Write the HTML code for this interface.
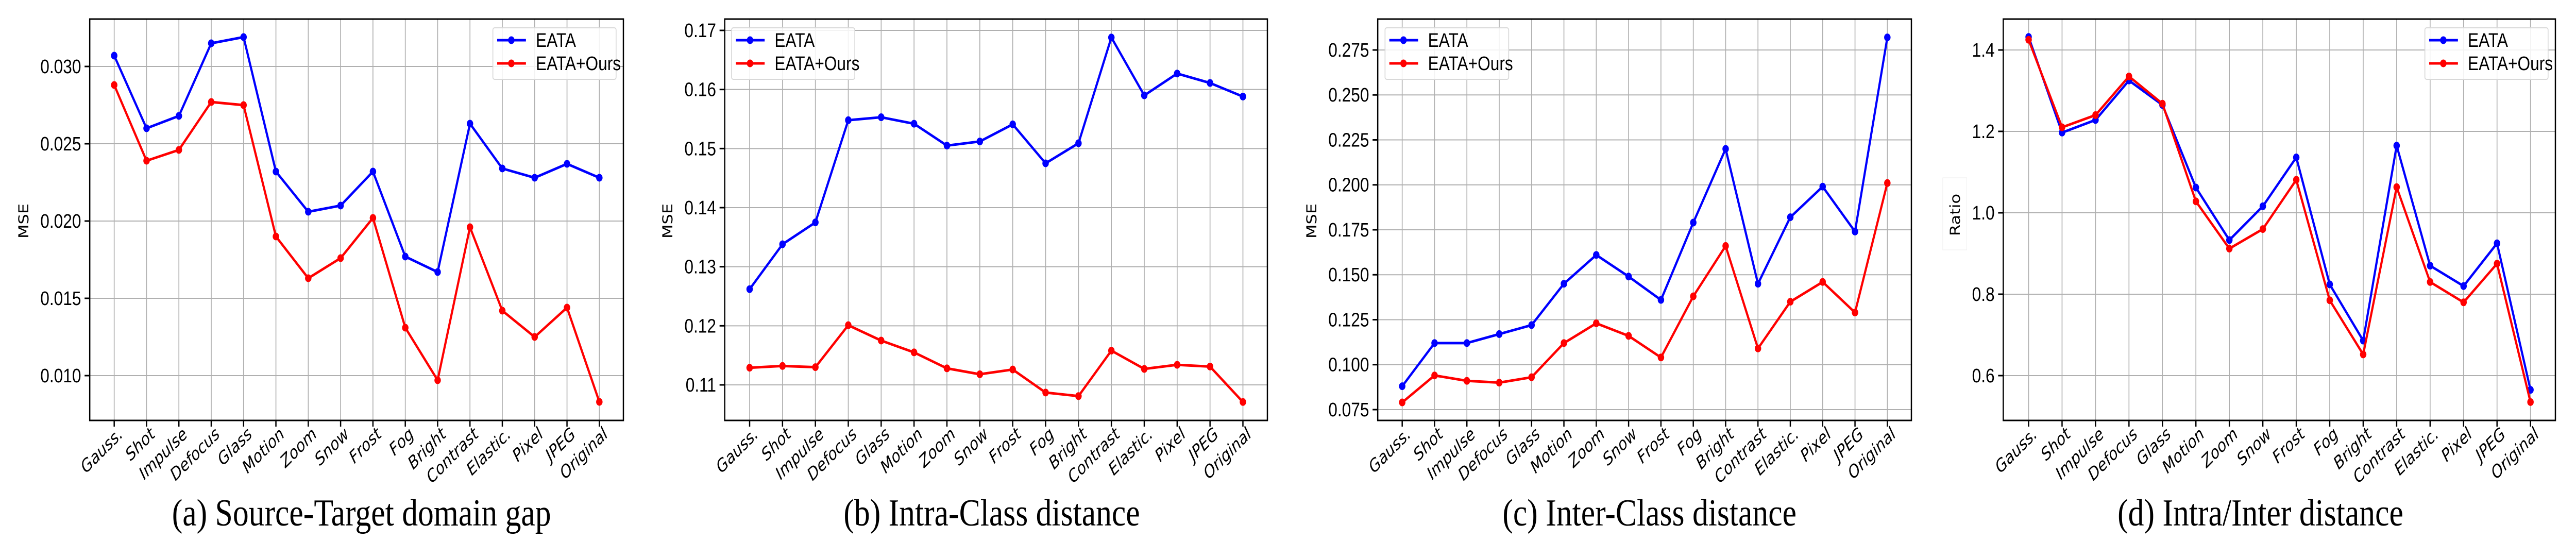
<!DOCTYPE html>
<html><head><meta charset="utf-8"><style>
html,body{margin:0;padding:0;background:#fff;width:100%;height:100%;overflow:hidden;}
svg{display:block;width:100vw;height:100vh;}
text{font-family:"Liberation Sans Narrow","Liberation Sans",sans-serif;}
</style></head><body>
<svg id="chart" viewBox="0 0 6000 1050" preserveAspectRatio="none" xmlns="http://www.w3.org/2000/svg"></svg>
<script>
const categories = ["Gauss.","Shot","Impulse","Defocus","Glass","Motion","Zoom","Snow","Frost","Fog","Bright","Contrast","Elastic.","Pixel","JPEG","Original"];
const aEata = [0.0307,0.0260,0.0268,0.0315,0.0319,0.0232,0.0206,0.0210,0.0232,0.0177,0.0167,0.0263,0.0234,0.0228,0.0237,0.0228];
const aOurs = [0.0288,0.0239,0.0246,0.0277,0.0275,0.0190,0.0163,0.0176,0.0202,0.0131,0.0097,0.0196,0.0142,0.0125,0.0144,0.0083];
const bEata = [0.1262,0.1338,0.1375,0.1548,0.1553,0.1542,0.1505,0.1512,0.1541,0.1475,0.1509,0.1688,0.1590,0.1627,0.1611,0.1588];
const bOurs = [0.1129,0.1132,0.1130,0.1201,0.1175,0.1155,0.1128,0.1118,0.1126,0.1087,0.1081,0.1158,0.1127,0.1134,0.1131,0.1071];
const cEata = [0.088,0.112,0.112,0.117,0.122,0.145,0.161,0.149,0.136,0.179,0.220,0.145,0.182,0.199,0.174,0.282];
const cOurs = [0.079,0.094,0.091,0.090,0.093,0.112,0.123,0.116,0.104,0.138,0.166,0.109,0.135,0.146,0.129,0.201];
const dEata = [1.432,1.197,1.228,1.325,1.265,1.062,0.933,1.016,1.136,0.824,0.686,1.165,0.870,0.820,0.925,0.565];
const dOurs = [1.425,1.210,1.240,1.335,1.268,1.028,0.912,0.960,1.081,0.785,0.652,1.063,0.830,0.780,0.875,0.535];
const aTicks = ["0.010","0.015","0.020","0.025","0.030"];
const bTicks = ["0.11","0.12","0.13","0.14","0.15","0.16","0.17"];
const cTicks = ["0.075","0.100","0.125","0.150","0.175","0.200","0.225","0.250","0.275"];
const dTicks = ["0.6","0.8","1.0","1.2","1.4"];
const titles = ["(a) Source-Target domain gap","(b) Intra-Class distance","(c) Inter-Class distance","(d) Intra/Inter distance"];
const yLabels = ["MSE","MSE","MSE","Ratio"];

const NS="http://www.w3.org/2000/svg";
const svg=document.getElementById('chart');
function mk(tag,attrs,parent){const e=document.createElementNS(NS,tag);for(const k in attrs)e.setAttribute(k,attrs[k]);(parent||svg).appendChild(e);return e;}

const panels=[
 {off:0,L:209,R:1452,T:37,B:816,x0:266,x1:1396,t0:0.010,y0:729,t1:0.030,y1:129,ticks:aTicks,s1:aEata,s2:aOurs,leg:[1148,54,287,100],tc:842},
 {off:1500,L:188,R:1452,T:37,B:816,x0:246,x1:1395,t0:0.11,y0:747,t1:0.17,y1:59,ticks:bTicks,s1:bEata,s2:bOurs,leg:[204,54,287,100],tc:810},
 {off:3000,L:209,R:1452,T:37,B:816,x0:266,x1:1396,t0:0.075,y0:795,t1:0.275,y1:97,ticks:cTicks,s1:cEata,s2:cOurs,leg:[226,54,288,100],tc:842},
 {off:4500,L:166,R:1452,T:37,B:816,x0:225,x1:1394,t0:0.6,y0:729,t1:1.4,y1:97,ticks:dTicks,s1:dEata,s2:dOurs,leg:[1148,54,287,100],tc:765}
];
panels.forEach((p,pi)=>{
 const g=mk('g',{transform:`translate(${p.off},0)`});
 
 
 const xs=i=>p.x0+(p.x1-p.x0)*i/(categories.length-1);
 const ys=v=>p.y0+(v-p.t0)*(p.y1-p.y0)/(p.t1-p.t0);
 categories.forEach((c,i)=>{
  const l=mk('line',{x1:xs(i),x2:xs(i),y1:p.T,y2:p.B,stroke:'#b0b0b0','stroke-width':2},g);
  
  
  mk('line',{x1:xs(i),x2:xs(i),y1:p.B,y2:p.B+12,stroke:'#000','stroke-width':3},g);
  const t=mk('text',{x:0,y:0,'text-anchor':'end','font-size':34,transform:`translate(${xs(i)+22},${p.B+30}) rotate(-40)`,style:'font-family:"DejaVu Sans",sans-serif;font-style:oblique'},g);
  t.textContent=c;
  
  
 });
 p.ticks.forEach(tk=>{
  const y=ys(parseFloat(tk));
  const l=mk('line',{x1:p.L,x2:p.R,y1:y,y2:y,stroke:'#b0b0b0','stroke-width':2},g);
  
  
  mk('line',{x1:p.L-12,x2:p.L,y1:y,y2:y,stroke:'#000','stroke-width':3},g);
  const t=mk('text',{x:p.L-20,y:y+13,'text-anchor':'end','font-size':38},g);
  t.textContent=tk;
  
  
 });
 const fr=mk('rect',{x:p.L,y:p.T,width:p.R-p.L,height:p.B-p.T,fill:'none',stroke:'#000','stroke-width':3},g);
 
 
 [[p.s1,'#0000ff','eata-line'],[p.s2,'#ff0000','eata-ours-line']].forEach(([s,col,nm])=>{
  const pl=mk('polyline',{points:s.map((v,i)=>xs(i)+','+ys(v)).join(' '),fill:'none',stroke:col,'stroke-width':5,'stroke-linejoin':'round'},g);
  
  
  s.forEach((v,i)=>{
   const c=mk('circle',{cx:xs(i),cy:ys(v),r:7.5,fill:col},g);
   
   
  });
 });
 const [lx,ly,lw,lh]=p.leg;
 const lg=mk('g',{},g);
 
 
 mk('rect',{x:lx,y:ly,width:lw,height:lh,fill:'#fff','fill-opacity':0.85,stroke:'#d8d8d8','stroke-width':2,rx:4},lg);
 [['EATA','#0000ff',78],['EATA+Ours','#ff0000',123]].forEach(([n,col,yy])=>{
  mk('line',{x1:lx+10,x2:lx+77,y1:yy,y2:yy,stroke:col,'stroke-width':5},lg);
  mk('circle',{cx:lx+43,cy:yy,r:7.5,fill:col},lg);
  const t=mk('text',{x:lx+100,y:yy+13,'font-size':38},lg);
  t.textContent=n;
  
  
 });
 if(pi===3){
  const r=mk('rect',{x:25,y:345,width:56,height:140,fill:'#fff',stroke:'#eee','stroke-width':1},g);
  
  
 }
 const yl=mk('text',{x:0,y:0,'text-anchor':'middle','font-size':32,transform:`translate(${pi===3?65:66},${pi===3?417:429}) rotate(-90)`,style:'font-family:"DejaVu Sans",sans-serif'},g);
 yl.textContent=yLabels[pi];
 
 
 const tt=mk('text',{x:p.tc,y:1020,'text-anchor':'middle','font-size':74,style:'font-family:"Liberation Serif",serif'},g);
 tt.textContent=titles[pi];
 
 
});
</script>
</body></html>
